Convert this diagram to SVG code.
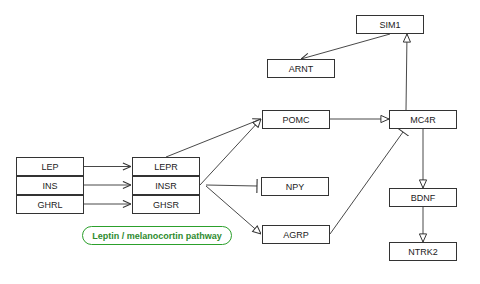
<svg xmlns="http://www.w3.org/2000/svg" width="480" height="284" viewBox="0 0 480 284">
  <defs>
    <style>
      .box rect { fill: #ffffff; stroke: #333333; stroke-width: 1; }
      .box text { font-family: "Liberation Sans", Arial, sans-serif; font-size: 9px; fill: #222222; text-anchor: middle; dominant-baseline: central; }
      .edge { stroke: #333333; stroke-width: 0.9; fill: none; }
      .legend rect { fill: #ffffff; stroke: #2ca02c; stroke-width: 1; }
      .legend text { font-family: "Liberation Sans", Arial, sans-serif; font-size: 9px; font-weight: bold; fill: #2e8b2e; text-anchor: middle; dominant-baseline: central; }
    </style>
    <!-- open stick arrowhead -->
    <marker id="open" viewBox="0 0 10 10" refX="10" refY="5" markerWidth="9" markerHeight="9" markerUnits="userSpaceOnUse" orient="auto">
      <path d="M1,1 L10,5 L1,9" fill="none" stroke="#333333" stroke-width="1.2"/>
    </marker>
    <!-- hollow triangle arrowhead -->
    <marker id="tri" viewBox="0 0 10 10" refX="10" refY="5" markerWidth="9" markerHeight="9" markerUnits="userSpaceOnUse" orient="auto">
      <path d="M1,1 L10,5 L1,9 Z" fill="#ffffff" stroke="#333333" stroke-width="1.1"/>
    </marker>
    <!-- inhibition bar -->
    <marker id="bar" viewBox="0 0 4 14" refX="2" refY="7" markerWidth="4" markerHeight="14" markerUnits="userSpaceOnUse" orient="auto">
      <line x1="2" y1="0" x2="2" y2="14" stroke="#333333" stroke-width="1.1"/>
    </marker>
  </defs>

  <g id="connectors">
    <line class="edge" x1="390" y1="34" x2="301" y2="59" marker-end="url(#open)"/>
    <line class="edge" x1="406" y1="110" x2="407" y2="34" marker-end="url(#tri)"/>
    <line class="edge" x1="84" y1="166.5" x2="131" y2="166.5" marker-end="url(#open)"/>
    <line class="edge" x1="84" y1="185" x2="131" y2="185" marker-end="url(#open)"/>
    <line class="edge" x1="84" y1="204" x2="131" y2="204" marker-end="url(#open)"/>
    <line class="edge" x1="166" y1="157" x2="261" y2="119" marker-end="url(#open)"/>
    <line class="edge" x1="200" y1="185" x2="261" y2="119" marker-end="url(#tri)"/>
    <line class="edge" x1="206" y1="185" x2="257" y2="186" marker-end="url(#bar)"/>
    <line class="edge" x1="206" y1="186" x2="261" y2="234" marker-end="url(#tri)"/>
    <line class="edge" x1="329" y1="119" x2="389" y2="119" marker-end="url(#tri)"/>
    <line class="edge" x1="330" y1="234" x2="403" y2="132" marker-end="url(#bar)"/>
    <line class="edge" x1="423" y1="128" x2="423" y2="188" marker-end="url(#tri)"/>
    <line class="edge" x1="423" y1="206" x2="423" y2="242" marker-end="url(#tri)"/>
  </g>

  <g id="SIM1" class="box"><rect x="356.5" y="15.5" width="67" height="18"/><text x="390" y="24.5">SIM1</text></g>
  <g id="ARNT" class="box"><rect x="267.5" y="59.5" width="67" height="18"/><text x="301" y="68.5">ARNT</text></g>
  <g id="POMC" class="box"><rect x="262.5" y="110.5" width="67" height="18"/><text x="296" y="119.5">POMC</text></g>
  <g id="MC4R" class="box"><rect x="389.5" y="110.5" width="67" height="18"/><text x="423" y="119.5">MC4R</text></g>
  <g id="NPY" class="box"><rect x="261.5" y="177.5" width="67" height="18"/><text x="295" y="186.5">NPY</text></g>
  <g id="AGRP" class="box"><rect x="262.5" y="225.5" width="67" height="18"/><text x="296" y="234.5">AGRP</text></g>
  <g id="BDNF" class="box"><rect x="389.5" y="188.5" width="67" height="18"/><text x="423" y="197.5">BDNF</text></g>
  <g id="NTRK2" class="box"><rect x="389.5" y="242.5" width="67" height="18"/><text x="423" y="251.5">NTRK2</text></g>

  <g id="LEP" class="box"><rect x="16.5" y="157.5" width="67" height="18"/><text x="50" y="166.5">LEP</text></g>
  <g id="INS" class="box"><rect x="16.5" y="176.5" width="67" height="18"/><text x="50" y="185.5">INS</text></g>
  <g id="GHRL" class="box"><rect x="16.5" y="195.5" width="67" height="18"/><text x="50" y="204.5">GHRL</text></g>

  <g id="LEPR" class="box"><rect x="132.5" y="157.5" width="67" height="18"/><text x="166" y="166.5">LEPR</text></g>
  <g id="INSR" class="box"><rect x="132.5" y="176.5" width="67" height="18"/><text x="166" y="185.5">INSR</text></g>
  <g id="GHSR" class="box"><rect x="132.5" y="195.5" width="67" height="18"/><text x="166" y="204.5">GHSR</text></g>

  <g id="legend" class="legend"><rect x="82.5" y="226.5" width="149" height="18" rx="9" ry="9"/><text x="157" y="235.5">Leptin / melanocortin pathway</text></g>
</svg>
